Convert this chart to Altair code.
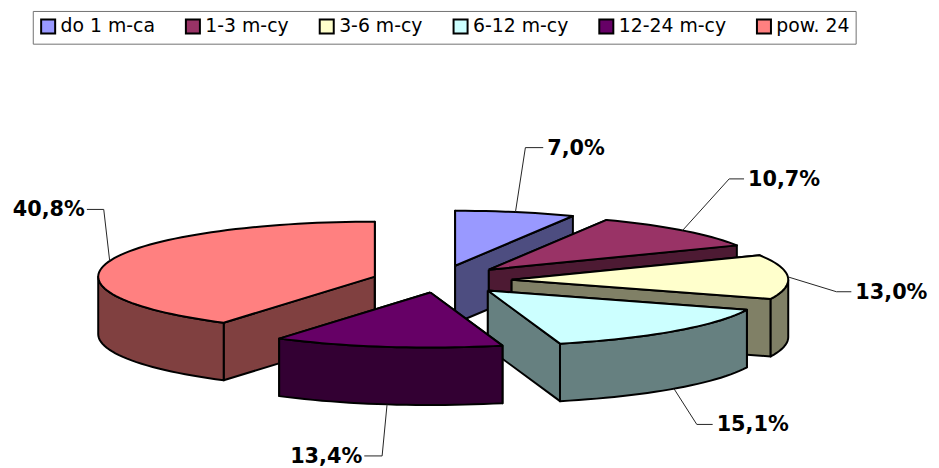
import math
import altair as alt
import pandas as pd

# Chart values
categories = ["do 1 m-ca", "1-3 m-cy", "3-6 m-cy", "6-12 m-cy", "12-24 m-cy", "pow. 24"]
shares = [7.0, 10.7, 13.0, 15.1, 13.4, 40.8]
top_colors = ["#9999FF", "#993366", "#FFFFCC", "#CCFFFF", "#660066", "#FF8080"]
side_colors = ["#4D4D80", "#4D1A33", "#808066", "#668080", "#330033", "#804040"]

# Layout of the exploded 3-D pie (page pixels)
RX, RY, DEPTH = 279, 55.5, 58
apex = [(459, 266), (493, 270), (516, 280), (492, 291), (434, 293), (378, 277)]
elbows = [(10, -65, 18), (47, -52, 15), (49, 15, 15), (23, 36, 16), (-5, 52, -18), (-6, -52, -17)]
draw_order = [5, 0, 1, 2, 3, 4]

X = alt.X("x:Q", axis=None, scale=alt.Scale(domain=[8, 939], range=[0, 931], nice=False, zero=False))
Y = alt.Y("y:Q", axis=None, scale=alt.Scale(domain=[468, 8], range=[460, 0], nice=False, zero=False))


def rim(i, a):
    r = math.radians(a)
    return apex[i][0] + RX * math.sin(r), apex[i][1] - RY * math.cos(r)


def arc(i, a0, a1):
    n = max(2, int(abs(a1 - a0) / 2) + 1)
    return [rim(i, a0 + (a1 - a0) * k / (n - 1)) for k in range(n)]


def poly(points, fill):
    rows = [{"x": p[0], "y": p[1], "o": k} for k, p in enumerate(points + points[:1])]
    return (
        alt.Chart(pd.DataFrame(rows))
        .mark_line(fill=fill, stroke="#000000", strokeWidth=2, strokeJoin="round")
        .encode(x=X, y=Y, order="o:Q")
    )


def down(points):
    return [(p[0], p[1] + DEPTH) for p in points]


spans = []
acc = 0.0
for s in shares:
    spans.append((acc * 3.6, (acc + s) * 3.6))
    acc += s

layers = []
for i in draw_order:
    a0, a1 = spans[i]
    c = apex[i]
    for a in (a0, a1):
        edge = [c, rim(i, a)]
        layers.append(poly(edge + down(edge)[::-1], side_colors[i]))
    lo, hi = max(a0, 90), min(a1, 270)
    if lo < hi:
        front = arc(i, lo, hi)
        layers.append(poly(front + down(front)[::-1], side_colors[i]))
    layers.append(poly([c] + arc(i, a0, a1), top_colors[i]))

# Leader lines and value labels
for i in range(6):
    a0, a1 = spans[i]
    mid = (a0 + a1) / 2
    start = rim(i, mid)
    if math.cos(math.radians(mid)) < 0 and 90 < mid < 270:
        start = (start[0], start[1] + DEPTH)
    dx, dy, run = elbows[i]
    bend = (start[0] + dx, start[1] + dy)
    end = (bend[0] + run, bend[1])
    rows = [{"x": p[0], "y": p[1], "o": k} for k, p in enumerate([start, bend, end])]
    layers.append(
        alt.Chart(pd.DataFrame(rows))
        .mark_line(stroke="#222222", strokeWidth=1)
        .encode(x=X, y=Y, order="o:Q")
    )
    label = f"{shares[i]:.1f}".replace(".", ",") + "%"
    layers.append(
        alt.Chart(pd.DataFrame([{"x": end[0], "y": end[1], "t": label}]))
        .mark_text(
            font="DejaVu Sans", fontWeight="bold", fontSize=21, color="#000000",
            align="left" if run > 0 else "right", baseline="middle",
            dx=4 if run > 0 else -2, dy=1,
        )
        .encode(x=X, y=Y, text="t:N")
    )

# Legend carrier
legend_df = pd.DataFrame({"cat": categories})
layers.append(
    alt.Chart(legend_df)
    .mark_square(size=0, opacity=0)
    .encode(
        x=alt.value(0),
        y=alt.value(0),
        color=alt.Color(
            "cat:N",
            scale=alt.Scale(domain=categories, range=top_colors),
            sort=categories,
            title=None,
            legend=alt.Legend(
                orient="none", legendX=25, legendY=1, direction="horizontal", columns=6,
                symbolType="square", symbolSize=200, symbolStrokeColor="#000000",
                symbolStrokeWidth=2, symbolOpacity=1, labelFont="DejaVu Sans", labelFontSize=19,
                labelColor="#000000", labelOffset=3, columnPadding=26, padding=6,
                strokeColor="#707070", fillColor="#FFFFFF", labelLimit=300,
            ),
        ),
    )
)

chart = (
    alt.layer(*layers)
    .properties(width=931, height=460, padding=0, autosize=alt.AutoSizeParams(type="none"))
    .configure_view(stroke=None)
)
chart.save("out.html", embed_options={"renderer": "svg", "actions": False})
